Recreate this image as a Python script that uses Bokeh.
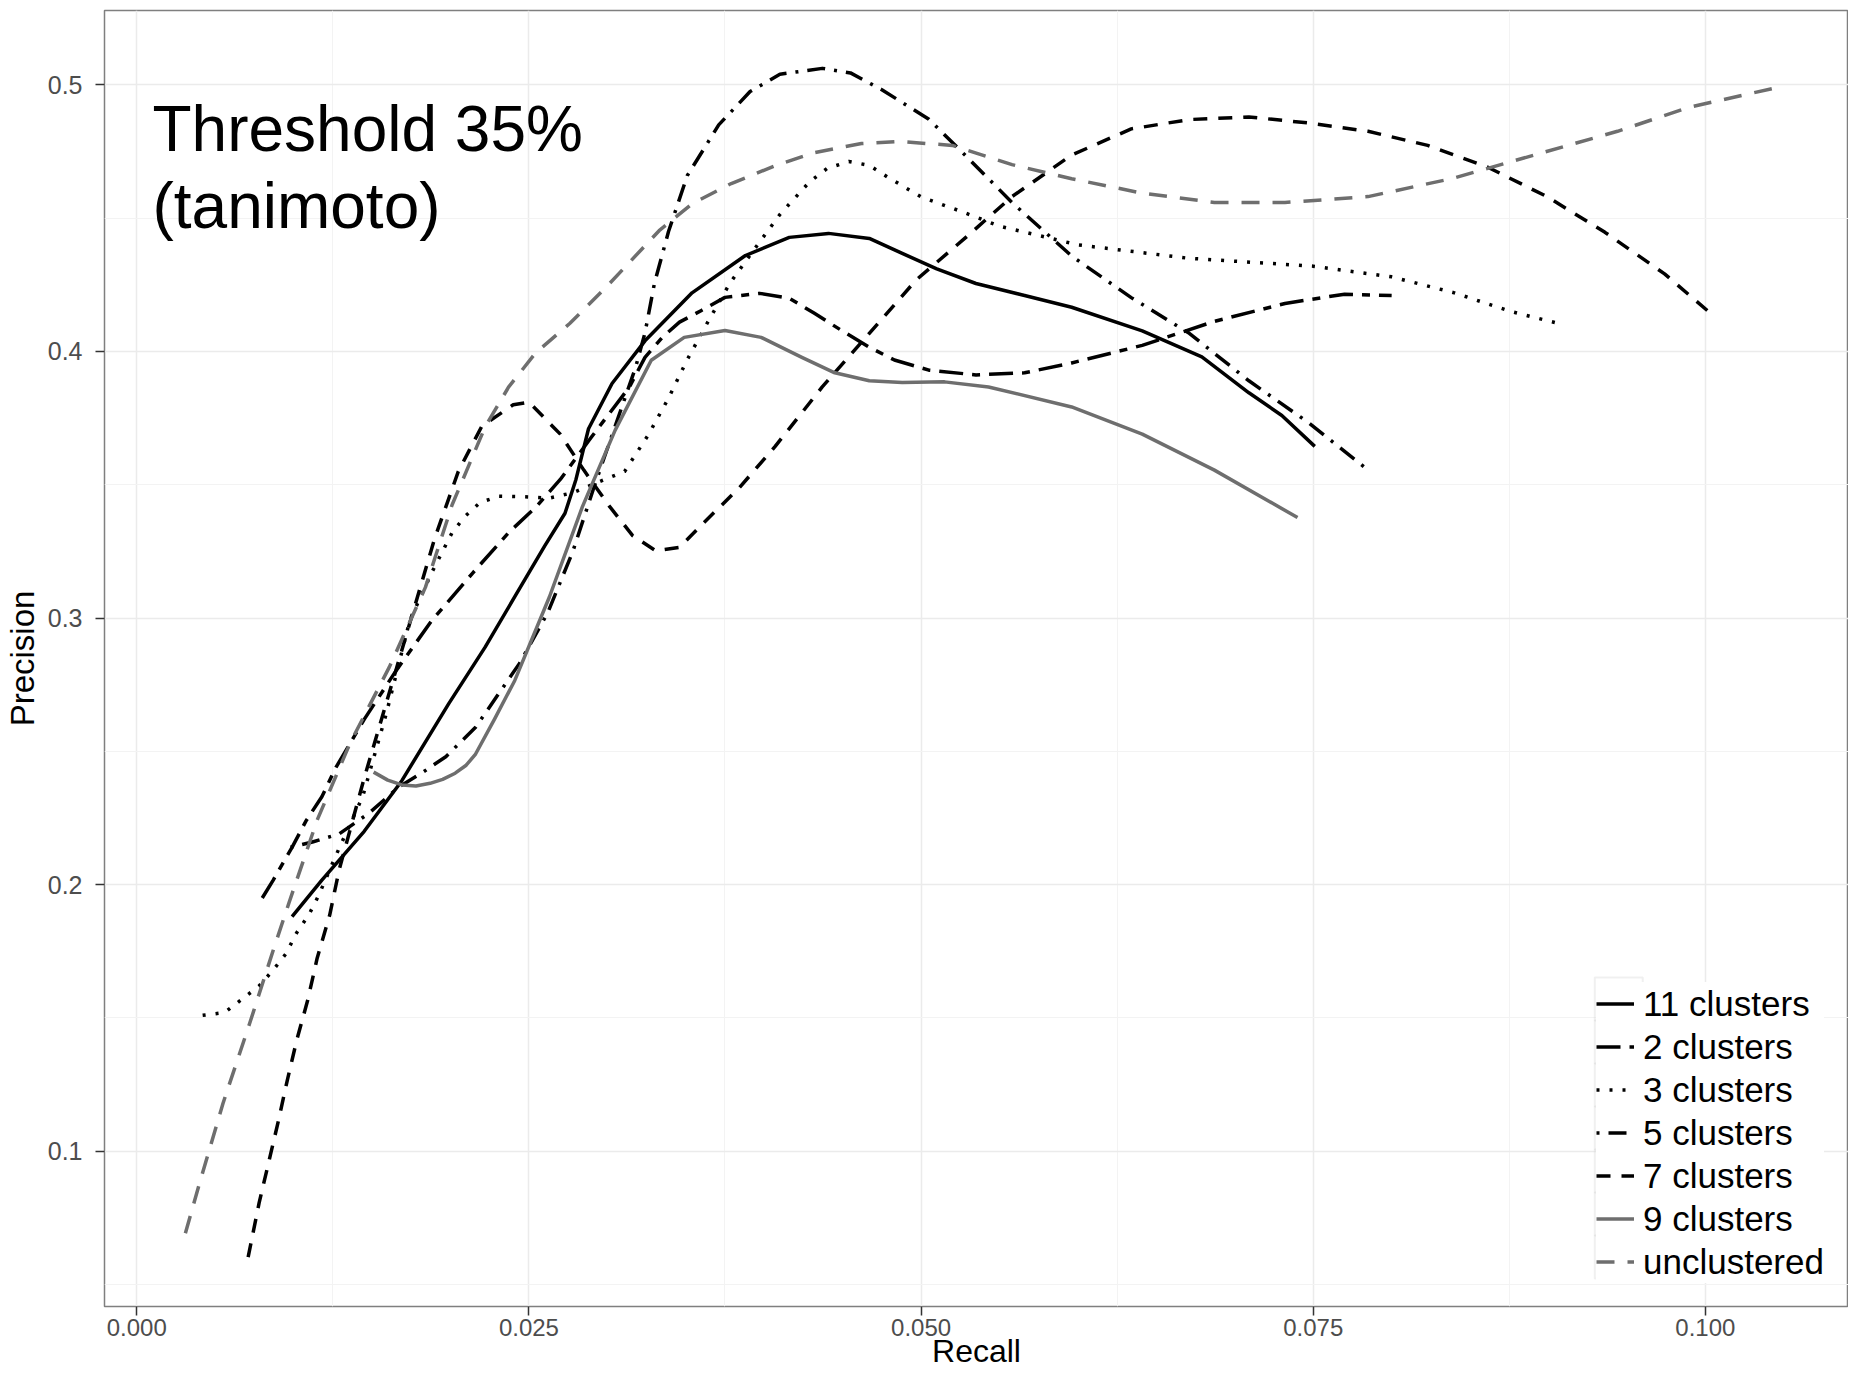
from bokeh.plotting import figure
from bokeh.models import (Range1d, FixedTicker, NumeralTickFormatter, Legend, LegendItem,
                          Label, BoxAnnotation)
from bokeh.embed import file_html
from bokeh.resources import INLINE

# ---------------- data ----------------
series_names = ["11 clusters", "2 clusters", "3 clusters", "5 clusters",
                "7 clusters", "9 clusters", "unclustered"]

recall_11 = [0.0099, 0.0118, 0.0145, 0.0169, 0.0199, 0.0222, 0.0241, 0.0260, 0.0273, 0.0280,
             0.0288, 0.0303, 0.0324, 0.0354, 0.0388, 0.0416, 0.0441, 0.0467, 0.0488, 0.0510,
             0.0535, 0.0566, 0.0596, 0.0641, 0.0679, 0.0709, 0.0730, 0.0751]
precision_11 = [0.188, 0.2017, 0.220, 0.239, 0.268, 0.289, 0.308, 0.327, 0.3393, 0.352,
                0.371, 0.388, 0.404, 0.422, 0.436, 0.4428, 0.4443, 0.4424, 0.4368, 0.431,
                0.4255, 0.421, 0.4166, 0.4077, 0.398, 0.3845, 0.376, 0.3644]

recall_2 = [0.0080, 0.0087, 0.0099, 0.0108, 0.0118, 0.0127, 0.0145, 0.0165, 0.0188, 0.0214,
            0.0237, 0.0255, 0.0270, 0.0290, 0.0314, 0.0324, 0.0335, 0.0346, 0.0360, 0.0375,
            0.0397, 0.0416, 0.0432, 0.0449, 0.0467, 0.0483, 0.0505, 0.0535, 0.0566, 0.0596,
            0.0641, 0.0687, 0.0732, 0.0770, 0.0800]
precision_2 = [0.195, 0.2017, 0.214, 0.224, 0.233, 0.244, 0.262, 0.280, 0.299, 0.3168,
               0.332, 0.342, 0.352, 0.368, 0.3866, 0.3978, 0.4053, 0.411, 0.4154, 0.4203,
               0.4218, 0.420, 0.4143, 0.408, 0.4016, 0.3968, 0.393, 0.3912, 0.392, 0.3957,
               0.4023, 0.4113, 0.418, 0.4215, 0.421]

recall_3 = [0.0042, 0.0056, 0.0067, 0.0078, 0.0087, 0.0095, 0.0102, 0.0110, 0.0116, 0.0127,
            0.0144, 0.0159, 0.0174, 0.0188, 0.0201, 0.0209, 0.0219, 0.0231, 0.0247, 0.0263,
            0.0278, 0.0290, 0.0311, 0.0326, 0.0339, 0.0351, 0.0364, 0.0378, 0.0394, 0.0410,
            0.0429, 0.0440, 0.0454, 0.0467, 0.0479, 0.0500, 0.0528, 0.0550, 0.0600, 0.0670,
            0.0750, 0.0800, 0.0840, 0.0876, 0.0910]
precision_3 = [0.151, 0.152, 0.157, 0.162, 0.168, 0.174, 0.182, 0.189, 0.196, 0.211,
               0.233, 0.264, 0.299, 0.317, 0.332, 0.338, 0.3434, 0.3457, 0.3455, 0.345,
               0.347, 0.350, 0.355, 0.3686, 0.3825, 0.397, 0.411, 0.4255, 0.4386, 0.4514,
               0.4637, 0.4686, 0.4713, 0.4698, 0.4653, 0.458, 0.452, 0.447, 0.440, 0.435,
               0.432, 0.428, 0.422, 0.415, 0.410]

recall_5 = [0.0098, 0.0112, 0.0129, 0.0148, 0.0167, 0.0182, 0.0197, 0.0216, 0.0244, 0.0262,
            0.0278, 0.0292, 0.0305, 0.0318, 0.0324, 0.0330, 0.0339, 0.0351, 0.0371, 0.0391,
            0.0410, 0.0437, 0.0455, 0.0475, 0.0505, 0.0528, 0.0558, 0.0596, 0.0634, 0.0671,
            0.0709, 0.0747, 0.0785]
precision_5 = [0.214, 0.216, 0.219, 0.2268, 0.2366, 0.242, 0.248, 0.259, 0.283, 0.302,
               0.325, 0.350, 0.372, 0.394, 0.407, 0.4255, 0.445, 0.466, 0.485, 0.4975,
               0.504, 0.5062, 0.5045, 0.4982, 0.4871, 0.4737, 0.4559, 0.4358, 0.4202, 0.4068,
               0.389, 0.3733, 0.3555]

recall_7 = [0.0071, 0.0078, 0.0084, 0.0090, 0.0096, 0.0102, 0.0109, 0.0115, 0.0123, 0.0129,
            0.0145, 0.0160, 0.0175, 0.0190, 0.0205, 0.0220, 0.0240, 0.0250, 0.0270, 0.0285,
            0.0301, 0.0316, 0.0331, 0.0346, 0.0361, 0.0384, 0.0407, 0.0437, 0.0467, 0.0497,
            0.0528, 0.0558, 0.0596, 0.0634, 0.0671, 0.0709, 0.0747, 0.0785, 0.0823, 0.0861,
            0.0899, 0.0936, 0.0974, 0.1002]
precision_7 = [0.0603, 0.0806, 0.0956, 0.1106, 0.1267, 0.1417, 0.1567, 0.1724, 0.1886, 0.2055,
               0.240, 0.270, 0.300, 0.330, 0.355, 0.372, 0.380, 0.381, 0.369, 0.3555,
               0.3422, 0.331, 0.3252, 0.3265, 0.3355, 0.3488, 0.3644, 0.3867, 0.4068, 0.4269,
               0.4425, 0.4581, 0.4737, 0.4835, 0.487, 0.488, 0.4857, 0.4826, 0.4773, 0.4692,
               0.4581, 0.4447, 0.4291, 0.415]

recall_9 = [0.0151, 0.0160, 0.0169, 0.0178, 0.0187, 0.0195, 0.0203, 0.0210, 0.0216, 0.0228,
            0.0241, 0.0263, 0.0284, 0.0305, 0.0328, 0.0349, 0.0375, 0.0398, 0.0424, 0.0445,
            0.0467, 0.0488, 0.0515, 0.0543, 0.0596, 0.0641, 0.0687, 0.0740]
precision_9 = [0.2422, 0.2392, 0.2374, 0.2370, 0.238, 0.2395, 0.2418, 0.2448, 0.249, 0.262,
               0.2766, 0.3078, 0.3416, 0.3705, 0.3967, 0.4053, 0.4079, 0.4053, 0.3978, 0.392,
               0.389, 0.3884, 0.3886, 0.3867, 0.3792, 0.369, 0.3555, 0.3377]

recall_u = [0.0031, 0.0040, 0.0055, 0.0072, 0.0087, 0.0097, 0.0115, 0.0136, 0.0161, 0.0184,
            0.0201, 0.0222, 0.0237, 0.0254, 0.0276, 0.0299, 0.0333, 0.0354, 0.0379, 0.0407,
            0.0432, 0.0462, 0.0486, 0.0520, 0.0558, 0.0596, 0.0641, 0.0687, 0.0732, 0.0785,
            0.0838, 0.0891, 0.0944, 0.0989, 0.1050]
precision_u = [0.0692, 0.088, 0.118, 0.148, 0.1754, 0.1931, 0.2242, 0.2531, 0.2816, 0.3115,
               0.3424, 0.3716, 0.3866, 0.3993, 0.4105, 0.424, 0.4453, 0.4554, 0.463, 0.4697,
               0.4746, 0.478, 0.4788, 0.4773, 0.4701, 0.4648, 0.4594, 0.4559, 0.4559, 0.4581,
               0.4648, 0.4737, 0.4826, 0.4915, 0.4996]

x_ticks = [0.0, 0.025, 0.05, 0.075, 0.1]
y_ticks = [0.1, 0.2, 0.3, 0.4, 0.5]
annotation_lines = ["Threshold 35%", "(tanimoto)"]
x_title = "Recall"
y_title = "Precision"

series_data = [(recall_11, precision_11), (recall_2, precision_2), (recall_3, precision_3),
               (recall_5, precision_5), (recall_7, precision_7), (recall_9, precision_9),
               (recall_u, precision_u)]

# ---------------- styles ----------------
styles = {
    "11 clusters": dict(color="#000000", dash="solid"),
    "2 clusters": dict(color="#000000", dash="24 9 8 9"),
    "3 clusters": dict(color="#000000", dash="3 10"),
    "5 clusters": dict(color="#000000", dash="3 9 18 9"),
    "7 clusters": dict(color="#000000", dash="14 11"),
    "9 clusters": dict(color="#6E6E6E", dash="solid"),
    "unclustered": dict(color="#6E6E6E", dash="18 13"),
}

FONT = "Liberation Sans"

# pixel geometry (figure px)
PX_PER_X = 15704.0
PX_PER_Y = 2665.8
X0_PX = 134.3    # pixel of recall 0.000
Y05_PX = 84.4    # pixel of precision 0.5
FRAME_L, FRAME_R, FRAME_T, FRAME_B = 102, 1848, 10, 1306
W, H = 1848, 1374

def data_x(px):
    return (px - X0_PX) / PX_PER_X

def data_y(py):
    return 0.5 - (py - Y05_PX) / PX_PER_Y

p = figure(width=W, height=H, output_backend="svg", toolbar_location=None,
           x_range=Range1d(data_x(FRAME_L), data_x(FRAME_R)),
           y_range=Range1d(data_y(FRAME_B), data_y(FRAME_T)),
           min_border_left=FRAME_L, min_border_right=W - FRAME_R,
           min_border_top=FRAME_T, min_border_bottom=H - FRAME_B,
           background_fill_color="white", border_fill_color="white")

p.outline_line_color = "#7F7F7F"
p.outline_line_width = 1.5

p.xaxis.ticker = FixedTicker(ticks=x_ticks, minor_ticks=[0.0125, 0.0375, 0.0625, 0.0875, 0.1125])
p.yaxis.ticker = FixedTicker(ticks=y_ticks, minor_ticks=[0.05, 0.15, 0.25, 0.35, 0.45])
p.xaxis.formatter = NumeralTickFormatter(format="0.000")
p.yaxis.formatter = NumeralTickFormatter(format="0.0")

for ax in (p.xaxis[0], p.yaxis[0]):
    ax.axis_line_color = None
    ax.major_tick_line_color = "#333333"
    ax.major_tick_line_width = 1.5
    ax.major_tick_out = 9
    ax.major_tick_in = 0
    ax.minor_tick_line_color = None
    ax.major_label_text_color = "#4D4D4D"
    ax.major_label_text_font = FONT
    ax.axis_label_text_font = FONT
    ax.axis_label_text_font_style = "normal"
    ax.axis_label_text_color = "#000000"

p.xaxis.axis_label = x_title
p.yaxis.axis_label = y_title
p.xaxis.major_label_text_font_size = "24px"
p.yaxis.major_label_text_font_size = "25px"
p.xaxis.axis_label_text_font_size = "32px"
p.yaxis.axis_label_text_font_size = "33px"
p.xaxis.major_label_standoff = 3
p.yaxis.major_label_standoff = 13
p.xaxis.axis_label_standoff = -6
p.yaxis.axis_label_standoff = 4

p.xgrid.grid_line_color = "#EBEBEB"
p.ygrid.grid_line_color = "#EBEBEB"
p.xgrid.grid_line_width = 1.5
p.ygrid.grid_line_width = 1.5
p.xgrid.minor_grid_line_color = "#F3F3F3"
p.ygrid.minor_grid_line_color = "#F3F3F3"
p.xgrid.minor_grid_line_width = 1
p.ygrid.minor_grid_line_width = 1

items = []
for name, (xs, ys) in zip(series_names, series_data):
    st = styles[name]
    r = p.line(xs, ys, line_color=st["color"], line_width=3.5, line_dash=st["dash"],
               line_join="round")
    items.append(LegendItem(label=name, renderers=[r]))

# legend: key column from x=1594..1642 px, rows of 43px ending at y=1278 px
LEG_LEFT, LEG_BOTTOM, ROW, KEY_W, PAD = 1594, 1278, 43, 48, 5
legend = Legend(items=items, location=(LEG_LEFT - FRAME_L, FRAME_B - (LEG_BOTTOM + PAD)),
                orientation="vertical",
                glyph_width=KEY_W - 2 * PAD, glyph_height=ROW, label_height=ROW, spacing=0,
                padding=PAD, margin=0, label_standoff=PAD + 4,
                label_text_font=FONT, label_text_font_size="35px",
                label_text_color="#000000",
                background_fill_color="white", background_fill_alpha=1.0,
                border_line_color=None)
p.add_layout(legend)

# light grey frames around the legend keys (ggplot legend.key border)
n_items = len(series_names)
for i in range(n_items):
    top_px = LEG_BOTTOM - (n_items - i) * ROW
    p.add_layout(BoxAnnotation(left=data_x(LEG_LEFT), right=data_x(LEG_LEFT + KEY_W),
                               top=data_y(top_px), bottom=data_y(top_px + ROW),
                               fill_alpha=0, line_color="#CCCCCC", line_width=2))

p.add_layout(Label(x=0.0010, y=0.4833, text=annotation_lines[0], text_font=FONT,
                   text_font_size="64px", text_color="#000000", text_baseline="alphabetic"))
p.add_layout(Label(x=0.0010, y=0.4545, text=annotation_lines[1], text_font=FONT,
                   text_font_size="64px", text_color="#000000", text_baseline="alphabetic"))

open("out.html", "w").write(file_html(p, INLINE))
